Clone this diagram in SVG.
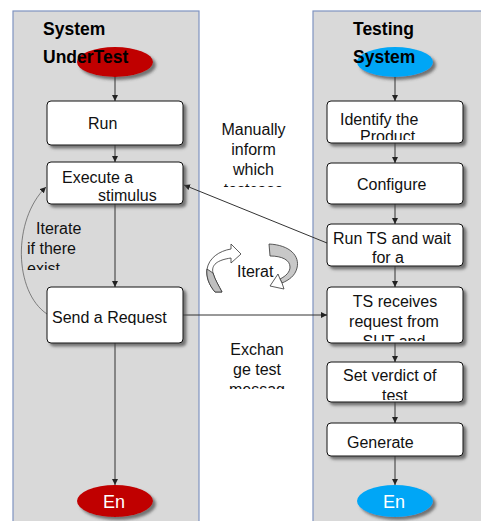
<svg xmlns="http://www.w3.org/2000/svg" width="481" height="521" viewBox="0 0 481 521">
<style>
.panel{fill:#d9d9d9;stroke:#7f93c0;stroke-width:1.2}
.box{fill:#fff;stroke:#111;stroke-width:1;filter:url(#sh)}
.t{font-family:"Liberation Sans",Arial,sans-serif;font-size:16px;fill:#111}
.c{text-anchor:middle}
.ttl{font-family:"Liberation Sans",Arial,sans-serif;font-size:17.5px;font-weight:bold;fill:#000}
.en{font-family:"Liberation Sans",Arial,sans-serif;font-size:18px;fill:#fff;text-anchor:middle}
.ln{stroke:#333;stroke-width:1;fill:none}
</style>
<defs>
<filter id="sh" x="-10%" y="-10%" width="130%" height="140%">
<feDropShadow dx="3" dy="3" stdDeviation="1.5" flood-color="#444" flood-opacity="0.7"/>
</filter>
<marker id="ar" viewBox="0 0 8 8" refX="8" refY="4" markerWidth="6" markerHeight="6" orient="auto" markerUnits="userSpaceOnUse">
<path d="M0,0 L8,4 L0,8 Z" fill="#222"/>
</marker>
<clipPath id="cExec"><rect x="47" y="162" width="136" height="40"/></clipPath>
<clipPath id="cSend"><rect x="47" y="287" width="136" height="38"/></clipPath>
<clipPath id="cId"><rect x="327" y="101" width="136" height="39"/></clipPath>
<clipPath id="cRun"><rect x="327" y="224" width="136" height="39"/></clipPath>
<clipPath id="cRec"><rect x="327" y="287" width="136" height="54"/></clipPath>
<clipPath id="cVer"><rect x="327" y="362" width="136" height="38"/></clipPath>
<clipPath id="cMan"><rect x="200" y="110" width="110" height="77"/></clipPath>
<clipPath id="cIt"><rect x="20" y="215" width="80" height="55"/></clipPath>
<clipPath id="cEx"><rect x="200" y="335" width="110" height="54"/></clipPath>
</defs>

<rect class="panel" x="13" y="11" width="186" height="515"/>
<rect class="panel" x="313" y="11" width="175" height="515"/>

<g id="sut-title">
<text class="ttl" x="43" y="35">System</text>
<ellipse cx="115" cy="62" rx="38" ry="15" fill="#c00000" filter="url(#sh)"/>
<text class="ttl" x="43" y="63">UnderTest</text>
</g>
<g id="ts-title">
<text class="ttl" x="353" y="35">Testing</text>
<ellipse cx="395" cy="62" rx="38" ry="15" fill="#00a6f6" filter="url(#sh)"/>
<text class="ttl" x="353" y="63">System</text>
</g>

<g id="connectors">
<line class="ln" x1="115" y1="77" x2="115" y2="101" marker-end="url(#ar)"/>
<line class="ln" x1="115" y1="145" x2="115" y2="162" marker-end="url(#ar)"/>
<line class="ln" x1="115" y1="204" x2="115" y2="287" marker-end="url(#ar)"/>
<line class="ln" x1="115" y1="343" x2="115" y2="485" marker-end="url(#ar)"/>
<line class="ln" x1="395" y1="77" x2="395" y2="101" marker-end="url(#ar)"/>
<line class="ln" x1="395" y1="143" x2="395" y2="163" marker-end="url(#ar)"/>
<line class="ln" x1="395" y1="204" x2="395" y2="224" marker-end="url(#ar)"/>
<line class="ln" x1="395" y1="266" x2="395" y2="287" marker-end="url(#ar)"/>
<line class="ln" x1="395" y1="343" x2="395" y2="362" marker-end="url(#ar)"/>
<line class="ln" x1="395" y1="402" x2="395" y2="423" marker-end="url(#ar)"/>
<line class="ln" x1="395" y1="456" x2="395" y2="485" marker-end="url(#ar)"/>
<line class="ln" x1="327" y1="243" x2="184" y2="185" marker-end="url(#ar)"/>
<line class="ln" x1="183" y1="315" x2="327" y2="315" marker-end="url(#ar)"/>
<path d="M47,314 C14,292 12,220 46,187" stroke="#555" stroke-width="0.7" fill="none" marker-end="url(#ar)"/>
</g>

<g id="run">
<rect class="box" x="47" y="101" width="136" height="44" rx="4"/>
<text class="t" x="88" y="129">Run</text>
</g>
<g id="execute">
<rect class="box" x="47" y="162" width="136" height="42" rx="4"/>
<g clip-path="url(#cExec)">
<text class="t" x="62" y="183">Execute a</text>
<text class="t" x="98" y="201">stimulus</text>
</g>
</g>
<g id="send">
<rect class="box" x="47" y="287" width="136" height="56" rx="4"/>
<g clip-path="url(#cSend)">
<text class="t" x="52" y="323">Send a Request</text>
</g>
</g>
<g id="sut-end">
<ellipse cx="115" cy="501" rx="38" ry="16" fill="#c00000" filter="url(#sh)"/>
<text class="en" x="114" y="508">En</text>
</g>

<g id="identify">
<rect class="box" x="327" y="101" width="136" height="42" rx="4"/>
<g clip-path="url(#cId)">
<text class="t" x="340" y="125">Identify the</text>
<text class="t" x="360" y="142">Product</text>
</g>
</g>
<g id="configure">
<rect class="box" x="327" y="163" width="136" height="41" rx="4"/>
<text class="t" x="357" y="190">Configure</text>
</g>
<g id="runts">
<rect class="box" x="327" y="224" width="136" height="42" rx="4"/>
<g clip-path="url(#cRun)">
<text class="t" x="333" y="244">Run TS and wait</text>
<text class="t" x="372" y="263">for a</text>
</g>
</g>
<g id="receives">
<rect class="box" x="327" y="287" width="136" height="56" rx="4"/>
<g clip-path="url(#cRec)">
<text class="t c" x="395" y="307">TS receives</text>
<text class="t c" x="394" y="327">request from</text>
<text class="t c" x="394" y="347">SUT and</text>
</g>
</g>
<g id="verdict">
<rect class="box" x="327" y="362" width="136" height="40" rx="4"/>
<g clip-path="url(#cVer)">
<text class="t" x="343" y="381">Set verdict of</text>
<text class="t" x="382" y="401">test</text>
</g>
</g>
<g id="generate">
<rect class="box" x="327" y="423" width="136" height="33" rx="4"/>
<text class="t" x="347" y="448">Generate</text>
</g>
<g id="ts-end">
<ellipse cx="395" cy="501" rx="38" ry="16" fill="#00a6f6" filter="url(#sh)"/>
<text class="en" x="394" y="508">En</text>
</g>

<g id="labels">
<g clip-path="url(#cMan)">
<text class="t c" x="253.5" y="135">Manually</text>
<text class="t c" x="253.5" y="155">inform</text>
<text class="t c" x="253.5" y="175">which</text>
<text class="t c" x="253.5" y="195">testcase</text>
</g>
<g clip-path="url(#cIt)">
<text class="t" x="36" y="234">Iterate</text>
<text class="t" x="27" y="254">if there</text>
<text class="t" x="27" y="274">exist</text>
</g>
<g clip-path="url(#cEx)">
<text class="t c" x="257" y="355">Exchan</text>
<text class="t c" x="257" y="375">ge test</text>
<text class="t c" x="257" y="395">messag</text>
</g>
</g>

<g id="iterate-icon">
<path d="M231,249 L231,244 L241,254 L231,263 L231,258 C217,260 211,265 213,273 C215,280 219,286 222,292 L215,292 C209,285 206,277 207,269 C209,258 219,251 231,249 Z" fill="#fff" stroke="#333" stroke-width="0.8"/>
<path d="M207,269 C206,277 209,285 215,292 L222,292 C219,286 215,280 213,273 Z" fill="#bfbfbf" stroke="#333" stroke-width="0.8"/>
<path d="M269,244 C290,245 300,256 297,268 C295,276 289,280 282,283 L280,279 C286,276 290,272 290,267 C290,260 282,256 270,256 Z" fill="#c8c8c8" stroke="#333" stroke-width="0.8"/>
<path d="M282,283 L284,289 L270,286 L278,274 L280,279 Z" fill="#fff" stroke="#333" stroke-width="0.8"/>
<text class="t" x="237" y="277">Iterat</text>
</g>
</svg>
